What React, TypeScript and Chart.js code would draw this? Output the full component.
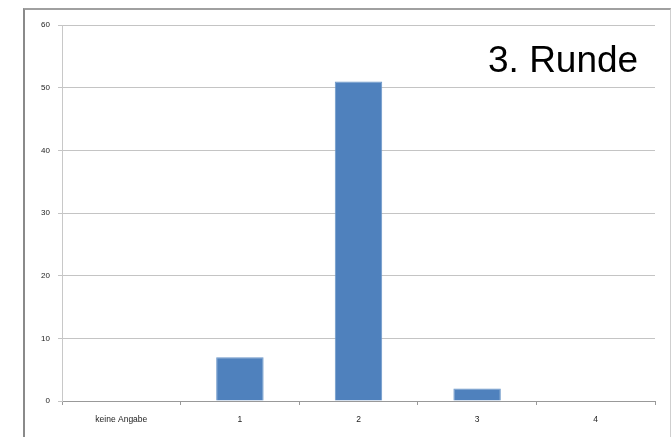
import React, { useEffect, useRef } from "react";
import { Chart, registerables } from "chart.js";

Chart.register(...registerables);

const categories = ["keine Angabe", "1", "2", "3", "4"];
const values = [0, 7, 51, 2, 0];
const chartTitle = "3. Runde";
const yMax = 60;
const yStep = 10;

const titlePlugin = {
  id: "cornerTitle",
  afterDraw(chart: any) {
    const ctx = chart.ctx;
    ctx.save();
    ctx.font = '37px "Liberation Sans", Arial, sans-serif';
    ctx.fillStyle = "#000";
    ctx.textBaseline = "alphabetic";
    ctx.textAlign = "left";
    ctx.fillText(chartTitle, 488, 71.5);
    ctx.restore();
  },
};

export default function App() {
  const ref = useRef<HTMLCanvasElement>(null);
  useEffect(() => {
    if (!ref.current) return;
    const chart = new Chart(ref.current, {
      type: "bar",
      data: {
        labels: categories,
        datasets: [
          {
            data: values,
            backgroundColor: "#4f81bd",
            borderColor: "#6b96c8",
            borderWidth: 1,
            categoryPercentage: 1,
            barPercentage: 0.4,
          },
        ],
      },
      options: {
        responsive: false,
        animation: false,
        devicePixelRatio: 1,
        layout: { padding: { top: 25, right: 17, left: 0, bottom: 0 } },
        plugins: {
          legend: { display: false },
          tooltip: { enabled: false },
          title: { display: false },
        },
        scales: {
          x: {
            grid: {
              offset: true,
              drawOnChartArea: false,
              drawTicks: true,
              tickLength: 4,
              color: "#999",
            },
            border: { color: "#999", width: 1 },
            ticks: {
              color: "#222",
              font: { family: '"Liberation Sans", Arial, sans-serif', size: 8.5 },
              padding: 10,
              maxRotation: 0,
              autoSkip: false,
            },
            afterFit(scale: any) {
              scale.height = 36;
            },
          },
          y: {
            min: 0,
            max: yMax,
            grid: {
              color: "#c4c4c4",
              lineWidth: 1,
              tickLength: 4,
            },
            border: { color: "#c8c8c8", width: 1 },
            ticks: {
              stepSize: yStep,
              color: "#222",
              font: { family: '"Liberation Sans", Arial, sans-serif', size: 8 },
              padding: 8,
            },
            afterFit(scale: any) {
              scale.width = 62;
            },
          },
        },
      },
      plugins: [titlePlugin],
    });
    return () => chart.destroy();
  }, []);

  return (
    <div style={{ position: "absolute", left: 0, top: 0, width: 672, height: 437, overflow: "hidden", background: "#fff" }}>
      <div
        style={{
          position: "absolute",
          left: 23,
          top: 8,
          width: 648,
          height: 460,
          borderLeft: "2px solid #8a8a8a",
          borderTop: "2px solid #a0a0a0",
          borderRight: "1px solid #cfcfcf",
          boxSizing: "border-box",
        }}
      />
      <canvas ref={ref} width={672} height={437} style={{ position: "absolute", left: 0, top: 0 }} />
    </div>
  );
}
